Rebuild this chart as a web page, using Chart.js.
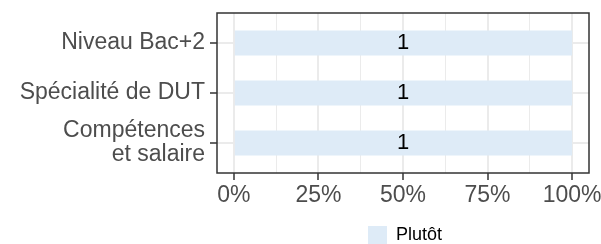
<!DOCTYPE html>
<html>
<head>
<meta charset="utf-8">
<script src="https://cdn.jsdelivr.net/npm/chart.js@4"></script>
<style>
  html, body { margin: 0; padding: 0; background: #fff; }
</style>
</head>
<body>
<canvas id="chart" width="601" height="244"></canvas>
<script>
// data
const categories = ["Niveau Bac+2", "Spécialité de DUT", "Compétences\net salaire"];
const shares = [1, 1, 1];          // proportion of answers
const counts = [1, 1, 1];          // number printed on the bar
const seriesName = "Plutôt";
const xMajorTicks = [0, 0.25, 0.5, 0.75, 1];
const xMinorTicks = [0.125, 0.375, 0.625, 0.875];

const FONT = '"Liberation Sans", Arial, sans-serif';
const barColor = '#deebf7';
const gridColor = '#ebebeb';
const darkColor = '#333333';

const xAllTicks = xMajorTicks.concat(xMinorTicks).sort((a, b) => a - b);
const isMajor = v => xMajorTicks.includes(v);

// labels, border and legend drawn over the plot like ggplot does
const decorations = {
    id: 'decorations',
    afterDatasetsDraw(chart) {
        const { ctx, chartArea: a, scales: { x, y } } = chart;
        ctx.save();

        ctx.font = '22px ' + FONT;
        ctx.fillStyle = '#000';
        ctx.textAlign = 'center';
        ctx.textBaseline = 'middle';
        counts.forEach((n, i) => {
            ctx.fillText(String(n), x.getPixelForValue(shares[i] / 2), y.getPixelForValue(i));
        });

        ctx.strokeStyle = darkColor;
        ctx.lineWidth = 1.5;
        ctx.strokeRect(a.left, a.top, a.right - a.left, a.bottom - a.top);

        // legend
        ctx.font = '18px ' + FONT;
        const box = 19, gap = 9;
        const tw = ctx.measureText(seriesName).width;
        const left = (a.left + a.right) / 2 + 2 - (box + gap + tw) / 2;
        const top = chart.height - 18;
        ctx.fillStyle = barColor;
        ctx.fillRect(left, top, box, 18);
        ctx.fillStyle = '#000';
        ctx.textAlign = 'left';
        ctx.fillText(seriesName, left + box + gap, top + 9);
        ctx.restore();
    }
};

new Chart(document.getElementById('chart'), {
    type: 'bar',
    data: {
        datasets: [{
            label: seriesName,
            data: categories.map((c, i) => ({ x: shares[i], y: i })),
            backgroundColor: barColor,
            borderWidth: 0,
            barPercentage: 0.5,
            categoryPercentage: 1
        }]
    },
    options: {
        responsive: false,
        animation: false,
        indexAxis: 'y',
        layout: { padding: { top: 13, right: 12, bottom: 0, left: 0 } },
        plugins: {
            legend: { display: false },
            tooltip: { enabled: false }
        },
        scales: {
            x: {
                type: 'linear',
                min: -0.05,
                max: 1.05,
                afterBuildTicks: s => { s.ticks = xAllTicks.map(v => ({ value: v })); },
                afterFit: s => { s.height = 71; s.paddingLeft = 0; s.paddingRight = 0; },
                ticks: {
                    autoSkip: false,
                    maxRotation: 0,
                    padding: 2,
                    color: '#4d4d4d',
                    font: { family: FONT, size: 23 },
                    callback: v => isMajor(v) ? Math.round(v * 100) + '%' : ''
                },
                grid: {
                    color: gridColor,
                    lineWidth: c => isMajor(c.tick.value) ? 2 : 1,
                    tickLength: 7,
                    tickColor: c => isMajor(c.tick.value) ? darkColor : 'rgba(0,0,0,0)',
                    tickWidth: 1.5
                },
                border: { display: false }
            },
            y: {
                type: 'linear',
                offset: false,
                min: -0.6,
                max: categories.length - 0.4,
                reverse: true,
                afterBuildTicks: s => { s.ticks = categories.map((c, i) => ({ value: i })); },
                afterFit: s => { s.width = 217; s.paddingTop = 0; s.paddingBottom = 0; },
                ticks: {
                    autoSkip: false,
                    padding: 5,
                    color: '#4d4d4d',
                    font: { family: FONT, size: 23, lineHeight: 1.05 },
                    callback: v => categories[v].split('\n')
                },
                grid: {
                    offset: false,
                    color: gridColor,
                    lineWidth: 2,
                    tickLength: 7,
                    tickColor: darkColor,
                    tickWidth: 1.5
                },
                border: { display: false }
            }
        }
    },
    plugins: [decorations]
});
</script>
</body>
</html>
